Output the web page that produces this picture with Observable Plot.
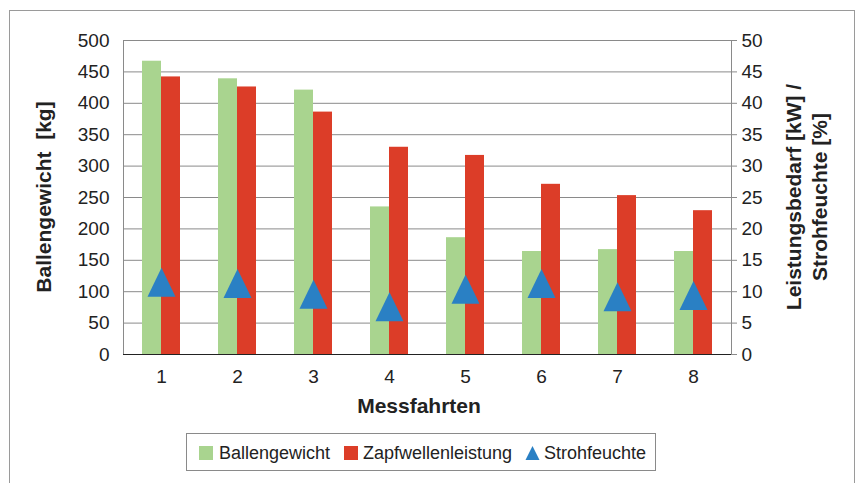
<!DOCTYPE html>
<html><head><meta charset="utf-8">
<script src="https://cdn.jsdelivr.net/npm/d3@7"></script>
<script src="https://cdn.jsdelivr.net/npm/@observablehq/plot@0.6"></script>
<style>body{margin:0;background:#fff;}</style>
</head><body><div id="chart"></div>
<script>
const messfahrten = [1, 2, 3, 4, 5, 6, 7, 8];
const ballengewicht = [467, 439, 421, 235, 186, 164, 167, 164];
const zapfwellenleistung = [44.2, 42.6, 38.6, 33.0, 31.7, 27.1, 25.3, 22.9];
const strohfeuchte = [11.5, 11.3, 9.6, 7.6, 10.4, 11.3, 9.2, 9.4];
const leftTicks = [0, 50, 100, 150, 200, 250, 300, 350, 400, 450, 500];
const rightTicks = [0, 5, 10, 15, 20, 25, 30, 35, 40, 45, 50];
const seriesNames = ["Ballengewicht", "Zapfwellenleistung", "Strohfeuchte"];
const RATIO = 10; // right axis scale factor

const GREEN = "#A9D48F", RED = "#DC3D28", BLUE = "#2A80C4";
const FONT = "'Liberation Sans', Arial, Helvetica, sans-serif";

const data = messfahrten.map((m, i) => ({
  m, b: ballengewicht[i], z: zapfwellenleistung[i] * RATIO, s: strohfeuchte[i] * RATIO
}));

const tri = {draw(ctx) { ctx.moveTo(0, -14.5); ctx.lineTo(14, 14.5); ctx.lineTo(-14, 14.5); ctx.closePath(); }};

const W = 856, H = 483;
const plot = Plot.plot({
  width: W, height: H,
  marginLeft: 123, marginRight: 125, marginTop: 40, marginBottom: 129,
  style: {fontFamily: FONT, fontSize: "19px", color: "#222", background: "#fff", overflow: "visible"},
  x: {type: "band", domain: messfahrten, paddingInner: 0.5, paddingOuter: 0.25, label: null},
  y: {domain: [0, 500], label: null},
  marks: [
    Plot.gridY({ticks: leftTicks.filter(d => d > 0), stroke: "#8a8a8a", strokeOpacity: 1}),
    Plot.frame({stroke: "#8a8a8a"}),
    Plot.barY(data, {x: "m", y: "b", fill: GREEN, insetLeft: 0, insetRight: 19}),
    Plot.barY(data, {x: "m", y: "z", fill: RED, insetLeft: 19, insetRight: 0}),
    Plot.ruleY([0], {stroke: "#222"}),
    Plot.dot(data, {x: "m", y: "s", symbol: tri, fill: BLUE, stroke: "none"}),
    Plot.axisY({ticks: leftTicks, anchor: "left", tickSize: 0, tickPadding: 14, label: null, fill: "#222"}),
    Plot.axisY({ticks: rightTicks.map(d => d * RATIO), anchor: "right", tickSize: 5, tickPadding: 5, stroke: "#8a8a8a", tickFormat: d => d / RATIO, label: null, fill: "#222"}),
    Plot.axisX({tickSize: 0, tickPadding: 15, label: null, fill: "#222"})
  ]
});

const svg = d3.select(plot);
// outer frame
svg.insert("rect", ":first-child").attr("x", 9.5).attr("y", 10.5).attr("width", 845).attr("height", 520)
  .attr("fill", "none").attr("stroke", "#9a9a9a");

// axis titles
svg.append("text").attr("x", 419).attr("y", 405).attr("text-anchor", "middle").attr("dominant-baseline", "central")
  .attr("font-weight", "bold").attr("font-size", 21).attr("fill", "#222").text("Messfahrten");
svg.append("text").attr("transform", "translate(43,197) rotate(-90)").attr("text-anchor", "middle")
  .attr("dominant-baseline", "central").attr("font-weight", "bold").attr("font-size", 21).attr("fill", "#222")
  .style("white-space", "pre").text("Ballengewicht  [kg]");
svg.append("text").attr("transform", "translate(793,197) rotate(-90)").attr("text-anchor", "middle")
  .attr("dominant-baseline", "central").attr("font-weight", "bold").attr("font-size", 21).attr("fill", "#222")
  .text("Leistungsbedarf [kW] /");
svg.append("text").attr("transform", "translate(819,197) rotate(-90)").attr("text-anchor", "middle")
  .attr("dominant-baseline", "central").attr("font-weight", "bold").attr("font-size", 21).attr("fill", "#222")
  .text("Strohfeuchte [%]");

// legend
const lg = svg.append("g");
lg.append("rect").attr("x", 186.5).attr("y", 433.5).attr("width", 469).attr("height", 37)
  .attr("fill", "#fff").attr("stroke", "#8a8a8a");
lg.append("rect").attr("x", 199).attr("y", 446).attr("width", 14).attr("height", 14).attr("fill", GREEN);
lg.append("rect").attr("x", 344).attr("y", 446).attr("width", 14).attr("height", 14).attr("fill", RED);
lg.append("path").attr("d", "M532.5,446L539.5,460L525.5,460Z").attr("fill", BLUE);
const lx = [219, 363, 544];
seriesNames.forEach((n, i) => {
  lg.append("text").attr("x", lx[i]).attr("y", 453).attr("text-anchor", "start").attr("dominant-baseline", "central")
    .attr("font-size", 18).attr("fill", "#222").text(n);
});

document.getElementById("chart").appendChild(plot);
</script>
</body></html>
